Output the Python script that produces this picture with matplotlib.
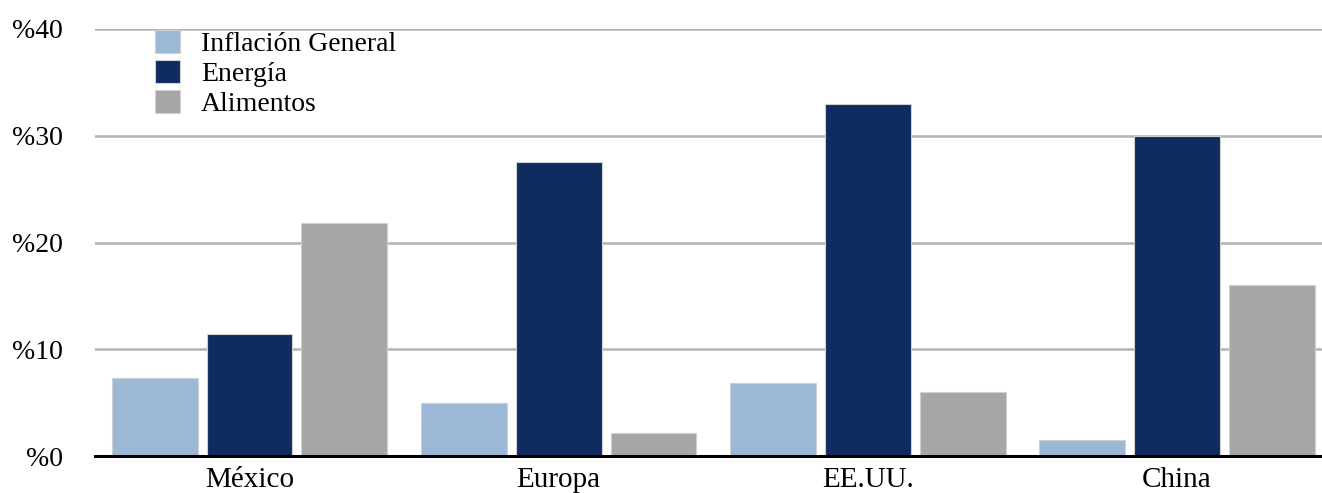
import numpy as np
import matplotlib
matplotlib.use("Agg")
import matplotlib.pyplot as plt

# =========================
# data
# =========================
CATEGORIES = ["México", "Europa", "EE.UU.", "China"]
SERIES = ["Inflación General", "Energía", "Alimentos"]
INFLACION = [7.3, 5.0, 6.8, 1.5]
ENERGIA = [11.4, 27.5, 33.0, 30.0]
ALIMENTOS = [21.8, 2.2, 6.0, 16.0]
Y_TICKS = [0, 10, 20, 30, 40]
Y_LABELS = ["%0", "%10", "%20", "%30", "%40"]

COLORS = ["#9bb8d7", "#0f2b5f", "#a6a6a6"]

plt.rcParams["font.family"] = ["Liberation Serif", "DejaVu Serif"]

fig = plt.figure(figsize=(13.22, 4.93), dpi=100)
ax = fig.add_axes([95 / 1322, 1 - 456 / 493, 1 - 95 / 1322, (456 - 29) / 493])

x = np.arange(len(CATEGORIES))
step = 0.307
width = 0.278
for i, (vals, name) in enumerate(zip([INFLACION, ENERGIA, ALIMENTOS], SERIES)):
    ax.bar(x + (i - 1) * step, vals, width, color=COLORS[i], label=name,
           edgecolor="#d0d0d0", linewidth=0.8, zorder=3)

ax.set_xlim(-0.5, 3.47)
ax.set_ylim(0, 40)
ax.set_yticks(Y_TICKS)
ax.set_yticklabels(Y_LABELS)
ax.set_xticks(x)
ax.set_xticklabels(CATEGORIES)
ax.tick_params(axis="y", length=0, pad=23, labelsize=20)
ax.tick_params(axis="x", length=0, pad=8, labelsize=21)

ax.yaxis.grid(True, color="#b3b3b3", linewidth=1.8, zorder=0)
ax.set_axisbelow(True)
for s in ["top", "right", "left"]:
    ax.spines[s].set_visible(False)
ax.spines["bottom"].set_color("black")
ax.spines["bottom"].set_linewidth(2.2)
ax.spines["bottom"].set_zorder(4)

fig.legend(loc="upper left", bbox_to_anchor=(155 / 1322, 1 - 30 / 493),
           frameon=False, fontsize=20, handlelength=0.9, handleheight=0.9,
           labelspacing=0.1, handletextpad=0.75, borderaxespad=0, borderpad=0)

fig.savefig("out.png", dpi=100)
